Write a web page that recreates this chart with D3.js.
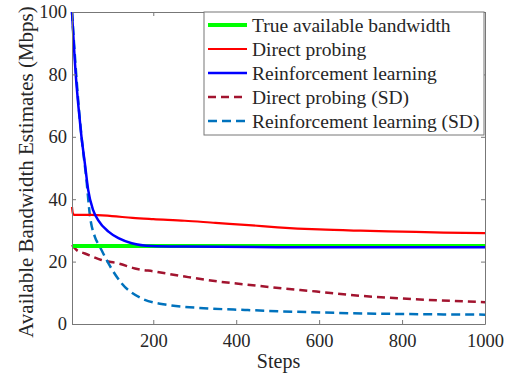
<!DOCTYPE html>
<html>
<head>
<meta charset="utf-8">
<script src="https://cdn.jsdelivr.net/npm/d3@7"></script>
<style>
  body { margin: 0; background: #fff; }
  text { font-family: "Liberation Serif", "DejaVu Serif", serif; fill: #262626; }
</style>
</head>
<body>
<div id="chart"></div>
<script>
// data
var trueSteps = [4, 1000];
var trueValues = [25, 25];

var dpSteps = [4, 6, 9, 50, 100, 150, 200, 276, 350, 430, 500, 600, 700, 800, 900, 1000];
var dpValues = [37.5, 35.5, 35, 35, 34.6, 34, 33.6, 33.1, 32.4, 31.7, 31, 30.3, 29.9, 29.6, 29.3, 29.1];

var rlSteps = [4, 13, 20, 26, 35, 43, 55, 67, 92, 116, 148, 196, 276, 500, 1000];
var rlValues = [100, 80, 69, 61, 51.5, 43, 36.5, 33.3, 29.6, 27.5, 25.9, 25.0, 24.8, 24.6, 24.6];

var dpSdSteps = [4, 15, 35, 75, 116, 156, 204, 276, 357, 421, 514, 594, 675, 795, 1000];
var dpSdValues = [25.3, 23.7, 22.6, 20.5, 19.4, 17.8, 16.8, 15.2, 13.6, 12.7, 11.4, 10.4, 9.3, 8.2, 7.0];

var rlSdSteps = [4, 12, 20, 27, 39, 47, 59, 71, 92, 124, 172, 236, 332, 421, 500, 600, 800, 1000];
var rlSdValues = [100, 84, 70, 60, 46, 35, 28, 24.8, 19.4, 13, 8.2, 6.1, 5.0, 4.5, 4.1, 3.7, 3.2, 3.0];

var xTicks = [200, 400, 600, 800, 1000];
var yTicks = [0, 20, 40, 60, 80, 100];

var legendLabels = ["True available bandwidth", "Direct probing", "Reinforcement learning",
  "Direct probing (SD)", "Reinforcement learning (SD)"];

var svgWidth = 515;
var svgHeight = 381;

var margin = { top: 12, right: 30, bottom: 57, left: 72 };
var width = svgWidth - margin.left - margin.right;
var height = svgHeight - margin.top - margin.bottom;

var svg = d3.select("#chart").append("svg")
  .attr("width", svgWidth)
  .attr("height", svgHeight);

var chartGroup = svg.append("g")
  .attr("transform", `translate(${margin.left}, ${margin.top})`);

var xScale = d3.scaleLinear().domain([4, 1000]).range([0, width]);
var yScale = d3.scaleLinear().domain([0, 100]).range([height, 0]);

// series
var series = [
  { steps: trueSteps, values: trueValues, color: "#00ff00", w: 4, dash: null },
  { steps: dpSteps, values: dpValues, color: "#ff0000", w: 2.2, dash: null },
  { steps: rlSteps, values: rlValues, color: "#0000ff", w: 2.5, dash: null },
  { steps: dpSdSteps, values: dpSdValues, color: "#a2142f", w: 2.5, dash: "8,5" },
  { steps: rlSdSteps, values: rlSdValues, color: "#0072bd", w: 2.5, dash: "9,5" }
];

var line = d3.line()
  .x(d => xScale(d[0]))
  .y(d => yScale(d[1]))
  .curve(d3.curveMonotoneX);

// draw order: dashed first, then solids on top like the figure
var drawOrder = [3, 4, 1, 0, 2];
drawOrder.forEach(function (i) {
  var s = series[i];
  chartGroup.append("path")
    .datum(d3.zip(s.steps, s.values))
    .attr("fill", "none")
    .attr("stroke", s.color)
    .attr("stroke-width", s.w)
    .attr("stroke-dasharray", s.dash)
    .attr("d", line);
});

// axes (ticks inward, box all round)
var bottomAxis = d3.axisBottom(xScale).tickValues(xTicks).tickFormat(d3.format("d"))
  .tickSizeInner(-4).tickSizeOuter(0).tickPadding(10);
var leftAxis = d3.axisLeft(yScale).tickValues(yTicks).tickSizeInner(-4).tickSizeOuter(0).tickPadding(5);
var topAxis = d3.axisTop(xScale).tickValues(xTicks).tickSizeInner(-4).tickSizeOuter(0).tickFormat("");
var rightAxis = d3.axisRight(yScale).tickValues(yTicks).tickSizeInner(-4).tickSizeOuter(0).tickFormat("");

var gx = chartGroup.append("g").attr("transform", `translate(0, ${height})`).call(bottomAxis);
var gy = chartGroup.append("g").call(leftAxis);
var gt = chartGroup.append("g").call(topAxis);
var gr = chartGroup.append("g").attr("transform", `translate(${width}, 0)`).call(rightAxis);

[gx, gy, gt, gr].forEach(function (g) {
  g.selectAll("path").attr("stroke", "#777").attr("stroke-width", 1);
  g.selectAll("line").attr("stroke", "#777").attr("stroke-width", 1);
  g.selectAll("text").attr("font-family", "Liberation Serif").attr("font-size", 18.5).attr("fill", "#262626");
});

// axis labels
chartGroup.append("text")
  .attr("transform", "rotate(-90)")
  .attr("x", -160)
  .attr("y", -39)
  .attr("text-anchor", "middle")
  .attr("font-size", 21)
  .text("Available Bandwidth Estimates (Mbps)");

chartGroup.append("text")
  .attr("x", width / 2)
  .attr("y", height + 44)
  .attr("text-anchor", "middle")
  .attr("font-size", 20)
  .text("Steps");

// legend
var legend = svg.append("g").attr("transform", "translate(204, 12)");
legend.append("rect")
  .attr("width", 280)
  .attr("height", 123)
  .attr("fill", "#fff")
  .attr("stroke", "#777")
  .attr("stroke-width", 1);

legendLabels.forEach(function (label, i) {
  var s = series[i];
  var yy = 13 + i * 24;
  legend.append("line")
    .attr("x1", 4).attr("x2", 43)
    .attr("y1", yy).attr("y2", yy)
    .attr("stroke", s.color)
    .attr("stroke-width", s.w)
    .attr("stroke-dasharray", s.dash);
  legend.append("text")
    .attr("x", 48)
    .attr("y", yy)
    .attr("dy", "0.35em")
    .attr("font-size", 19.5)
    .text(label);
});
</script>
</body>
</html>
